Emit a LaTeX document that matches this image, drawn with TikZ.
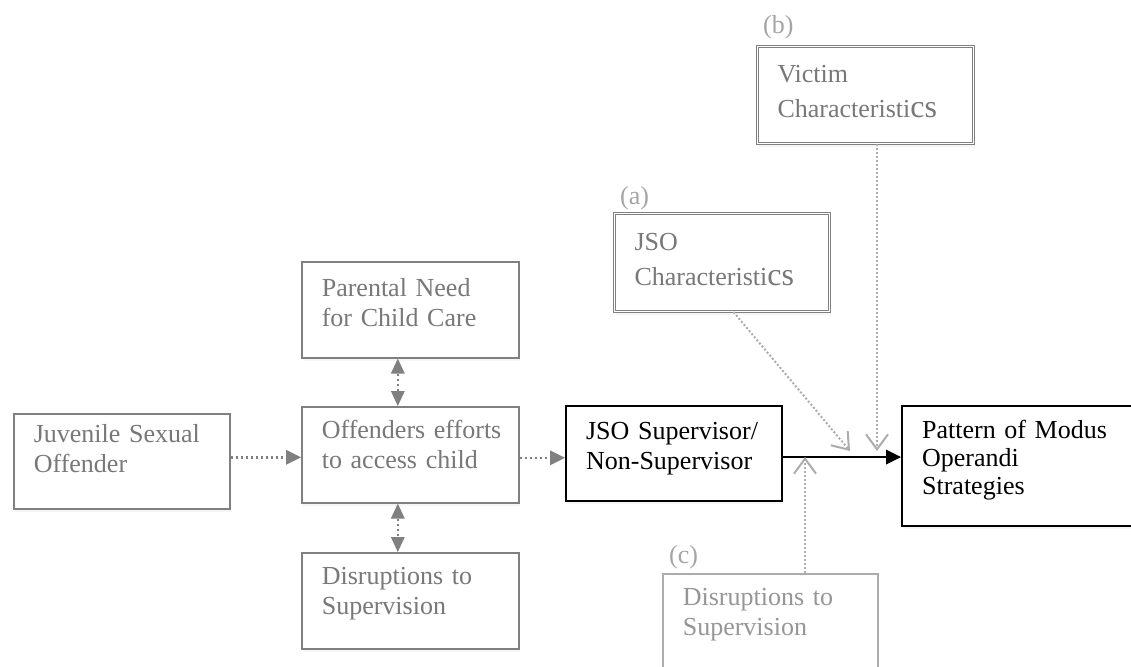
\documentclass[tikz,border=0pt]{standalone}
\usepackage{fontspec}
\setmainfont{Liberation Serif}
\usetikzlibrary{arrows.meta, shadows}
\definecolor{boxgray}{RGB}{128,128,128}
\definecolor{txtgray}{RGB}{120,120,120}
\definecolor{taggray}{RGB}{165,165,165}
\definecolor{palegray}{RGB}{172,172,172}
\definecolor{fadetxt}{RGB}{150,150,150}
\tikzset{
box/.style={draw=boxgray, line width=1.6pt, fill=white, text=txtgray, anchor=north west,
  align=left, inner xsep=20pt, inner ysep=0pt, font=\fontsize{26}{30}\selectfont,
  drop shadow={opacity=0.08, shadow xshift=1pt, shadow yshift=-3pt}}, % every box of the model
mainbox/.style={box, draw=black, line width=2.2pt, text=black}, % the two black boxes
charbox/.style={box, double=white, double distance=1pt, line width=1pt,
  font=\fontsize{26}{35}\selectfont}, % the (a) and (b) boxes
fadebox/.style={box, draw=palegray, text=fadetxt}, % the (c) box
tag/.style={text=taggray, anchor=base west, inner sep=0pt, font=\fontsize{26}{30}\selectfont},
dotarrow/.style={draw=boxgray, line width=2.5pt, dash pattern=on 2.5pt off 2.5pt,
  -{Triangle[length=15pt, width=15pt, line width=0pt]}},
bothway/.style={dotarrow, {Triangle[length=15pt, width=14pt, line width=0pt]}-{Triangle[length=15pt, width=14pt, line width=0pt]}},
lightdot/.style={draw=palegray, line width=2pt, dash pattern=on 2pt off 2pt,
  -{Straight Barb[length=15pt, width=22pt, line width=2pt]}},
mainarrow/.style={draw=black, line width=2pt, -{Triangle[length=15pt, width=15pt, line width=0pt]}},
}
\newcommand{\bigcs}{{\fontsize{32}{35}\selectfont cs}}
\begin{document}
\begin{tikzpicture}[x=1pt, y=-1pt]
\useasboundingbox (0,0) rectangle (1131,666);

% left part
\node[box, text width=176pt, text height=29pt, text depth=66pt] (juv) at (13,413) {Juvenile Sexual\\Offender};
\node[box, text width=177pt, text height=35pt, text depth=61pt] (parent) at (301,261) {Parental Need\\for Child Care};
\node[box, text width=177pt, text height=32pt, text depth=64pt] (effort) at (301,406) {\mbox{Offenders efforts}\\to access child};
\node[box, text width=177pt, text height=32pt, text depth=64pt] (disrupt) at (301,552) {Disruptions to\\Supervision};

% right part
\node[mainbox, text width=260pt, text height=32pt, text depth=88pt, font=\fontsize{26}{28}\selectfont] (pattern) at (901,405) {Pattern of Modus\\Operandi\\Strategies};
\node[mainbox, text width=176pt, text height=33pt, text depth=62pt] (super) at (565,405) {\mbox{JSO Supervisor/}\\Non-Supervisor};
\node[charbox, text width=175pt, text height=37pt, text depth=61pt] (jsochar) at (614,213) {JSO\\Characteristi\bigcs};
\node[charbox, text width=176pt, text height=36pt, text depth=61pt] (victim) at (757,46) {Victim\\Characteristi\bigcs};
\node[fadebox, text width=175pt, text height=32pt, text depth=64pt] (disruptc) at (662,573) {Disruptions to\\Supervision};

\node[tag] (taga) at (620,204) {(a)};
\node[tag] (tagb) at (763,34) {(b)};
\node[tag] (tagc) at (669,563) {(c)};

\coordinate (hita) at (850,451);
\coordinate (hitb) at (877,451);
\coordinate (hitc) at (805,457);

\draw[dotarrow] ([yshift=4pt]juv.east) -- ([yshift=4pt]juv.east -| effort.west);
\draw[dotarrow] ([yshift=-3pt]effort.east) -- ([yshift=-3pt]effort.east -| super.west);
\draw[bothway] ([xshift=-12.5pt]parent.south) -- ([xshift=-12.5pt]effort.north);
\draw[bothway] ([xshift=-12.5pt]effort.south) -- ([xshift=-12.5pt]disrupt.north);
\draw[mainarrow] ([yshift=-3.5pt]super.east) -- ([yshift=-3.5pt]super.east -| pattern.west);
\draw[lightdot] ([xshift=11.5pt]jsochar.south) -- (hita);
\draw[lightdot] (victim.south -| hitb) -- (hitb);
\draw[lightdot] (disruptc.north -| hitc) -- (hitc);
\end{tikzpicture}
\end{document}
